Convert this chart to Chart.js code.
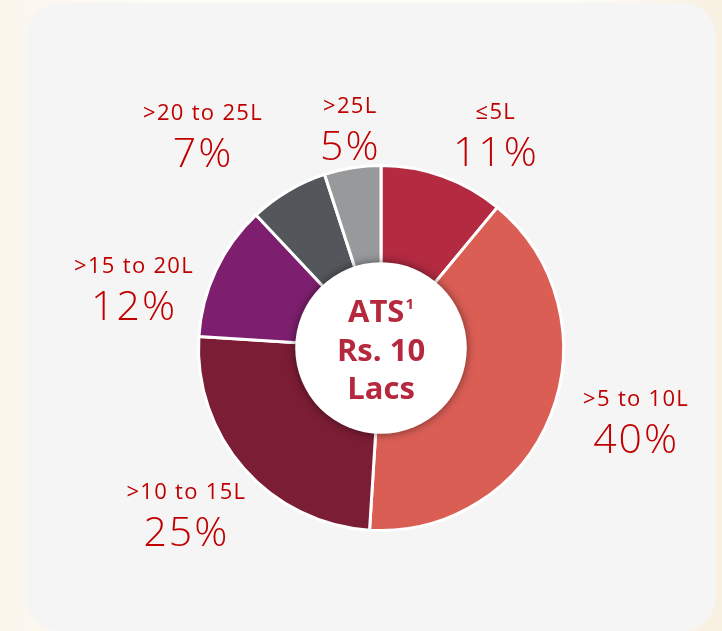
<!DOCTYPE html>
<html>
<head>
<meta charset="utf-8">
<script src="https://cdn.jsdelivr.net/npm/chart.js@4"></script>
<style>
  html, body { margin: 0; padding: 0; }
  body {
    width: 722px; height: 631px; overflow: hidden; position: relative;
    background: linear-gradient(90deg, #fbf6ec 0%, #fdfbf7 20%, #fdfbf8 80%, #f8f0e0 100%);
  }
  .card {
    position: absolute; left: 26px; top: 3px; width: 690px; height: 628px;
    background: #f5f5f5; border-radius: 34px;
  }
  #wrap { position: absolute; left: 0; top: 0; width: 722px; height: 631px; }
</style>
</head>
<body>
<div class="card"></div>
<div id="wrap"><canvas id="atsChart"></canvas></div>
<script>
// ── Data ──
const categories = ['≤5L', '>5 to 10L', '>10 to 15L', '>15 to 20L', '>20 to 25L', '>25L'];
const shares     = [11, 40, 25, 12, 7, 5];
const colors     = ['#b32a41', '#db5e55', '#7b1d34', '#7d1f6e', '#53575b', '#98999b'];
const centerLines = ['ATS', 'Rs. 10', 'Lacs'];
const centerSup   = '1';

// label nudges (px) from a point just outside each slice's middle
const labelNudge = [[31, 4], [25, -33], [-9, -13], [-23, 30], [-52, -15], [8, 9]];

const LABEL_RED  = '#c00000';
const CENTER_RED = '#b5283e';

// ── Center disc + text ──
const centerPlugin = {
  id: 'centerDisc',
  afterDatasetsDraw(chart) {
    const arc = chart.getDatasetMeta(0).data[0];
    const ctx = chart.ctx;
    const r = arc.outerRadius * 0.47;
    ctx.save();
    ctx.shadowColor = 'rgba(0,0,0,0.5)';
    ctx.shadowBlur = 10;
    ctx.beginPath();
    ctx.arc(arc.x, arc.y, r, 0, Math.PI * 2);
    ctx.fillStyle = '#ffffff';
    ctx.fill();
    ctx.restore();

    ctx.save();
    ctx.fillStyle = CENTER_RED;
    ctx.textBaseline = 'alphabetic';
    ctx.font = '700 31px "Open Sans"';
    const lineH = 38.5;
    const base0 = arc.y - 26;
    // first line with superscript
    const w0 = ctx.measureText(centerLines[0]).width;
    ctx.font = '700 15px "Open Sans"';
    const ws = ctx.measureText(centerSup).width;
    const start = arc.x - (w0 + ws + 1) / 2;
    ctx.font = '700 31px "Open Sans"';
    ctx.textAlign = 'left';
    ctx.fillText(centerLines[0], start, base0);
    ctx.font = '700 15px "Open Sans"';
    ctx.fillText(centerSup, start + w0 + 1, base0 - 13);
    ctx.font = '700 31px "Open Sans"';
    ctx.textAlign = 'center';
    for (let i = 1; i < centerLines.length; i++) {
      ctx.fillText(centerLines[i], arc.x, base0 + lineH * i);
    }
    ctx.restore();
  }
};

// ── Outside labels ──
const labelPlugin = {
  id: 'outsideLabels',
  afterDraw(chart) {
    const ctx = chart.ctx;
    const arcs = chart.getDatasetMeta(0).data;
    ctx.save();
    ctx.fillStyle = LABEL_RED;
    ctx.textAlign = 'center';
    ctx.textBaseline = 'alphabetic';
    arcs.forEach((a, i) => {
      const mid = (a.startAngle + a.endAngle) / 2;
      const d = a.outerRadius + 65;
      const x = a.x + Math.cos(mid) * d + labelNudge[i][0];
      const y = a.y + Math.sin(mid) * d + labelNudge[i][1];
      ctx.font = '400 22px "Open Sans"';
      ctx.letterSpacing = '1.3px';
      ctx.fillText(categories[i], x, y);
      ctx.font = '300 41px "Open Sans"';
      ctx.letterSpacing = '2px';
      ctx.fillText(shares[i] + '%', x, y + 47);
    });
    ctx.restore();
  }
};

new Chart(document.getElementById('atsChart'), {
  type: 'doughnut',
  data: {
    labels: categories,
    datasets: [{
      data: shares,
      backgroundColor: colors,
      borderColor: '#ffffff',
      borderWidth: 3,
    }]
  },
  options: {
    responsive: true,
    maintainAspectRatio: false,
    animation: false,
    cutout: '35%',
    layout: { padding: { left: 197, right: 157, top: 163, bottom: 98 } },
    plugins: {
      legend: { display: false },
      tooltip: { enabled: false }
    }
  },
  plugins: [centerPlugin, labelPlugin]
});
</script>
</body>
</html>
